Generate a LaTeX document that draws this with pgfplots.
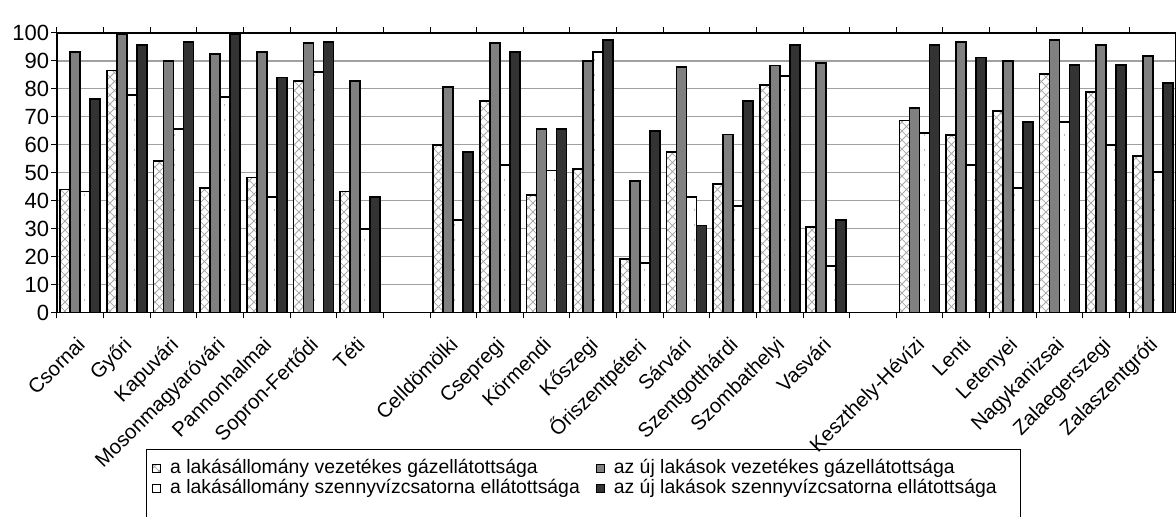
\documentclass[border=0pt]{standalone}
\usepackage{pgfplots}
\usepackage{pgfplotstable}
\pgfplotsset{compat=1.18}
\usepackage{fontspec}
\setmainfont{Liberation Sans}
\usetikzlibrary{patterns}

\definecolor{gridgray}{HTML}{A0A0A0}
\definecolor{bargray}{HTML}{808080}
\definecolor{bardark}{HTML}{333333}
\definecolor{hatchgray}{HTML}{A8A8A8}

% diagonal cross hatch, one X per bar width
\pgfdeclarepatternformonly{xcross}{\pgfqpoint{0pt}{0pt}}{\pgfqpoint{4.7pt}{4.7pt}}{\pgfqpoint{4.7pt}{4.7pt}}{%
  \pgfsetlinewidth{0.4pt}%
  \pgfpathmoveto{\pgfqpoint{0pt}{0pt}}\pgfpathlineto{\pgfqpoint{4.7pt}{4.7pt}}%
  \pgfpathmoveto{\pgfqpoint{0pt}{4.7pt}}\pgfpathlineto{\pgfqpoint{4.7pt}{0pt}}%
  \pgfusepath{stroke}}
% sparse dots
\pgfdeclarepatternformonly{sdots}{\pgfqpoint{0pt}{0pt}}{\pgfqpoint{5pt}{7.5pt}}{\pgfqpoint{5pt}{7.5pt}}{%
  \pgfpathcircle{\pgfqpoint{2.5pt}{3.75pt}}{0.35pt}%
  \pgfusepath{fill}}

% x = slot index; slots 7 and 17 are the empty gaps between counties
\pgfplotstableread{
x  gas  gasnew  sew  sewnew
0  44.0 93.1 43.3 76.5
1  86.6 99.5 77.7 95.6
2  54.1 89.9 65.6 96.9
3  44.5 92.4 77.0 99.5
4  48.3 93.1 41.2 84.1
5  82.9 96.3 86.0 96.9
6  43.3 82.9 29.8 41.3
8  59.8 80.8 33.2 57.3
9  75.8 96.3 52.9 93.1
10 42.0 65.6 50.8 65.6
11 51.4 89.9 93.1 97.5
12 19.1 47.1 17.8 64.9
13 57.3 87.9 41.3 31.1
14 45.9 63.7 38.1 75.8
15 81.5 88.4 84.7 95.6
16 30.5 89.3 16.5 33.2
18 68.7 73.3 64.2 95.6
19 63.6 96.9 52.9 91.2
20 72.0 89.9 44.5 68.1
21 85.3 97.5 68.1 88.5
22 79.0 95.6 59.8 88.5
23 56.1 91.8 50.3 82.0
}\adat

\begin{document}
\begin{tikzpicture}
\begin{axis}[
    scale only axis,
    width=559.5pt, height=139.75pt,
    ybar=0pt, bar width=0.2146,
    xmin=-0.5, xmax=23.5,
    ymin=0, ymax=100,
    ytick={0,10,...,100},
    xtick={-0.5,0.5,...,23.5},
    xticklabels={},
    extra x ticks={-0.1,0.9,1.9,2.9,3.9,4.9,5.9,7.9,8.9,9.9,10.9,11.9,12.9,13.9,14.9,15.9,17.9,18.9,19.9,20.9,21.9,22.9},
    extra x tick labels={Csornai,Győri,Kapuvári,Mosonmagyaróvári,Pannonhalmai,Sopron-Fertődi,Téti,Celldömölki,Csepregi,Körmendi,Kőszegi,Őriszentpéteri,Sárvári,Szentgotthárdi,Szombathelyi,Vasvári,Keszthely-Hévízi,Lenti,Letenyei,Nagykanizsai,Zalaegerszegi,Zalaszentgróti},
    extra x tick style={major tick length=0pt},
    xticklabel style={rotate=45, anchor=north east, font=\fontsize{10.2}{12}\selectfont},
    xticklabel shift=6.5pt,
    yticklabel style={font=\fontsize{11}{13}\selectfont, inner sep=0.8pt},
    /pgf/number format/assume math mode=true,
    tick align=outside,
    major tick length=3pt,
    tick style={black, line width=0.5pt},
    ymajorgrids,
    grid style={gridgray, line width=0.6pt},
    axis line style={black, line width=0.6pt},
    every axis plot/.append style={draw=black, line width=0.9pt},
    legend columns=2,
    legend cell align=left,
    legend image code/.code={\draw[#1, line width=0.5pt] (0pt,-2pt) rectangle (4pt,2pt);},
    legend style={
        name=leg,
        at={(0,0)}, anchor=north west, xshift=44.85pt, yshift=-68.25pt,
        draw=none, fill=none,
        inner xsep=2.5pt, inner ysep=4.5pt,
        font=\fontsize{9.7}{12}\selectfont,
        nodes={inner sep=0pt, text height=7.5pt, text depth=2.5pt},
        row sep=0pt,
        /tikz/every odd column/.append style={column sep=4.5pt},
        /tikz/every even column/.append style={column sep=8pt},
    },
]
\addplot[fill=white, postaction={pattern=xcross, pattern color=hatchgray}] table[x=x, y=gas] {\adat};
\addplot[fill=bargray] table[x=x, y=gasnew] {\adat};
\addplot[fill=white, postaction={pattern=sdots, pattern color=gray}] table[x=x, y=sew] {\adat};
\addplot[fill=bardark] table[x=x, y=sewnew] {\adat};
\legend{a lakásállomány vezetékes gázellátottsága,
        az új lakások vezetékes gázellátottsága,
        a lakásállomány szennyvízcsatorna ellátottsága,
        az új lakások szennyvízcsatorna ellátottsága\hspace*{9pt}}
\node[anchor=south west, inner sep=0pt, font=\fontsize{10}{12}\selectfont] at (rel axis cs:0,1) [xshift=1.5pt, yshift=4pt] {\%};
\coordinate (bl) at (rel axis cs:0,0);
\end{axis}
% legend frame runs on below the page edge, as in the reference
\draw[black, line width=0.4pt] (leg.north west) rectangle ([yshift=-12pt]leg.south east);
\pgfresetboundingbox
\path (bl) ++(-28.5pt,-102.25pt) rectangle ++(588pt,258.5pt);
\end{tikzpicture}
\end{document}
